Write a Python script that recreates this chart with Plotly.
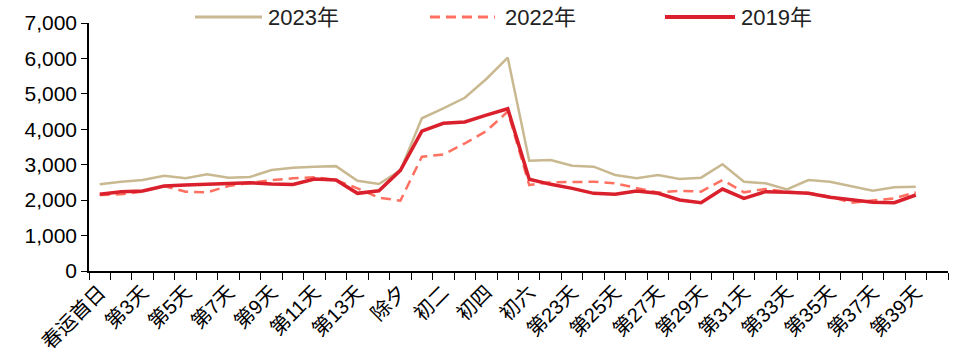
import plotly.graph_objects as go

categories = (["春运首日"] + [f"第{i}天" for i in range(2, 15)]
              + ["除夕", "初一", "初二", "初三", "初四", "初五", "初六"]
              + [f"第{i}天" for i in range(22, 41)])

y2023 = [2446, 2520, 2568, 2690, 2616, 2728, 2634, 2655, 2850, 2916,
         2944, 2960, 2545, 2455, 2840, 4310, 4590, 4890, 5420, 6020,
         3113, 3133, 2972, 2944, 2710, 2616, 2710, 2596, 2634, 3015,
         2520, 2475, 2305, 2568, 2520, 2400, 2266, 2362, 2380]
y2022 = [2145, 2164, 2240, 2400, 2240, 2220, 2400, 2475, 2568, 2616,
         2644, 2568, 2333, 2069, 1985, 3226, 3290, 3600, 3950, 4500,
         2427, 2503, 2503, 2520, 2475, 2352, 2210, 2266, 2240, 2568,
         2220, 2314, 2240, 2200, 2100, 1929, 1985, 2051, 2220]
y2019 = [2164, 2240, 2258, 2400, 2427, 2455, 2475, 2492, 2455, 2440,
         2596, 2568, 2192, 2266, 2840, 3950, 4170, 4205, 4400, 4580,
         2588, 2446, 2333, 2192, 2164, 2258, 2192, 2004, 1929, 2314,
         2051, 2240, 2220, 2192, 2080, 2004, 1938, 1929, 2145]

series_names = ["2023年", "2022年", "2019年"]
series_colors = ["#C9B991", "#FF7060", "#D9202C"]
series_widths = [2.5, 2.5, 3.5]
series_dash = ["solid", "10px,6px", "solid"]

yticks = [0, 1000, 2000, 3000, 4000, 5000, 6000, 7000]
ytick_text = ["0", "1,000", "2,000", "3,000", "4,000", "5,000", "6,000", "7,000"]

tick_text = [c if i % 2 == 0 else "" for i, c in enumerate(categories)]

W, H = 954, 361
ML, MR, MT, MB = 89, 6, 23, 90
pw, ph = W - ML - MR, H - MT - MB


def px_x(p):
    return (p - ML) / pw


def px_y(p):
    return (H - MB - p) / ph


fig = go.Figure()
for name, ys, col, wd, ds in zip(series_names, [y2023, y2022, y2019],
                                 series_colors, series_widths, series_dash):
    fig.add_trace(go.Scatter(x=categories[:len(ys)], y=ys, name=name, mode="lines",
                             line=dict(color=col, width=wd, dash=ds)))

# custom legend (longer sample lines like the reference)
leg_line_x = [(195, 262), (430, 495), (665, 735)]
leg_text_x = [266, 503, 739]
leg_y = 17
for (x0, x1), tx, name, col, wd, ds in zip(leg_line_x, leg_text_x, series_names,
                                           series_colors, series_widths, series_dash):
    fig.add_shape(type="line", xref="paper", yref="paper",
                  x0=px_x(x0), x1=px_x(x1), y0=px_y(leg_y), y1=px_y(leg_y),
                  line=dict(color=col, width=wd + 0.5, dash=ds))
    fig.add_annotation(xref="paper", yref="paper", x=px_x(tx), y=px_y(leg_y),
                       xanchor="left", yanchor="middle", text=name, showarrow=False,
                       font=dict(size=22, color="#222222"))

fig.update_layout(
    width=W, height=H,
    margin=dict(l=ML, r=MR, t=MT, b=MB),
    paper_bgcolor="white", plot_bgcolor="white",
    font=dict(family="Arial, Liberation Sans, Noto Sans CJK SC", color="#000000"),
    showlegend=False,
)
fig.update_xaxes(
    type="category", categoryorder="array", categoryarray=categories,
    range=[-0.5, len(categories) - 0.5],
    tickmode="array", tickvals=categories, ticktext=tick_text,
    tickson="boundaries", ticks="outside", ticklen=7, tickcolor="#000",
    tickangle=-45, tickfont=dict(size=20, family="Arial, Noto Sans CJK SC"),
    showline=True, linecolor="#000", linewidth=1.5, showgrid=False, zeroline=False,
)
fig.update_yaxes(
    range=[0, 7000], tickmode="array", tickvals=yticks, ticktext=ytick_text,
    ticks="outside", ticklen=6, tickcolor="#000",
    tickfont=dict(size=21),
    showline=True, linecolor="#000", linewidth=1.5, showgrid=False, zeroline=False,
)

fig.write_html("out.html")
